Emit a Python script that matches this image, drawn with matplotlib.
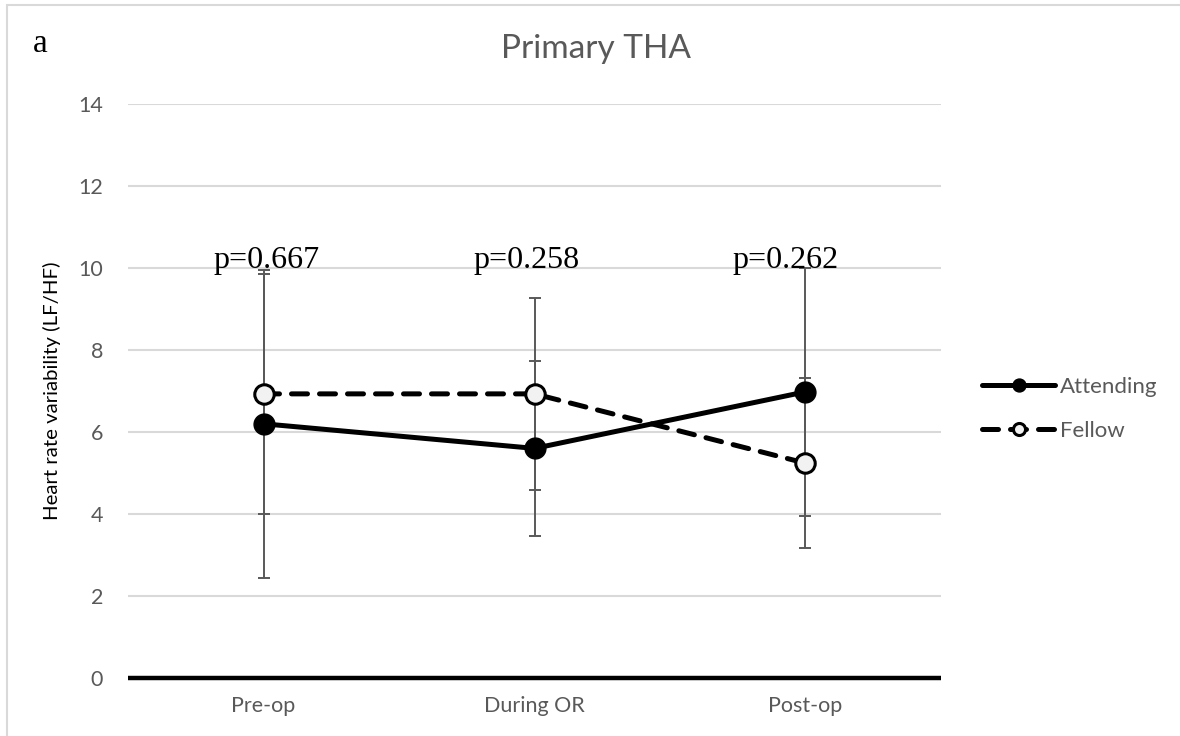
import matplotlib.pyplot as plt
from matplotlib.patches import Rectangle

categories = ['Pre-op', 'During OR', 'Post-op']
attending = [6.20, 5.60, 6.98]
attending_err = [3.76, 2.14, 3.03]
fellow = [6.93, 6.93, 5.24]
fellow_err = [2.93, 2.34, 2.07]
p_values = ['p=0.667', 'p=0.258', 'p=0.262']
p_offsets = [0.01, -0.03, -0.075]

plt.rcParams['font.family'] = ['Lato', 'DejaVu Sans']
grey = '#595959'

fig = plt.figure(figsize=(11.8, 7.36), dpi=100)
ax = fig.add_axes([128/1180, 58/736, 813/1180, 574/736])

x = list(range(len(categories)))

# error bars first, so the lines sit on top
ax.errorbar(x, attending, yerr=attending_err, fmt='none', ecolor=grey,
            elinewidth=1.4, capsize=4.3, capthick=1.4, zorder=3)
ax.errorbar(x, fellow, yerr=fellow_err, fmt='none', ecolor=grey,
            elinewidth=1.4, capsize=4.3, capthick=1.4, zorder=3)

ax.plot(x, attending, color='black', lw=3.6, marker='o', ms=15,
        mfc='black', mec='black', label='Attending', zorder=5,
        solid_capstyle='round')
ax.plot(x, fellow, color='black', lw=3.6, ls=(0, (3.2, 2.4)), marker='o', ms=14,
        mfc='#f2f2f2', mec='black', mew=2.2, label='Fellow', zorder=5,
        dash_capstyle='round')

for i, txt in enumerate(p_values):
    ax.text(x[i] + p_offsets[i], 10.0, txt, ha='center', va='baseline',
            family='Liberation Serif', fontsize=23, color='black', zorder=6)

ax.set_xlim(-0.5, 2.5)
ax.set_ylim(0, 14)
ax.set_yticks(range(0, 15, 2))
ax.set_xticks(x)
ax.set_xticklabels(categories)
ax.tick_params(length=0, labelsize=15.5, labelcolor=grey)
ax.tick_params(axis='y', pad=18)
ax.tick_params(axis='x', pad=13)
for s in ax.spines.values():
    s.set_visible(False)
ax.grid(axis='y', color='#d9d9d9', lw=1.5, zorder=0)
ax.axhline(0, color='black', lw=3.2, zorder=4, clip_on=False, solid_capstyle='butt')
ax.set_axisbelow(True)

ax.set_ylabel('Heart rate variability (LF/HF)', fontsize=14.7, color='black', labelpad=12)

fig.text(596/1180, 1 - 49/736, 'Primary THA', ha='center', va='center',
         fontsize=24, color=grey)
fig.text(33/1180, 1 - 52/736, 'a', ha='left', va='baseline',
         family='Liberation Serif', fontsize=24, color='black')

fig.legend(loc='upper left', bbox_to_anchor=(982/1180, 1 - 377/736),
           frameon=False, fontsize=16, handlelength=3.3, handletextpad=0.2,
           labelspacing=1.07, borderpad=0, borderaxespad=0, labelcolor=grey,
           markerscale=0.62)

fig.patches.append(Rectangle((7/1180, -0.1), 2, 1.1 - 5/736, transform=fig.transFigure,
                             fill=False, edgecolor='#d9d9d9', lw=1.5, figure=fig))

fig.savefig('out.png', dpi=100)
